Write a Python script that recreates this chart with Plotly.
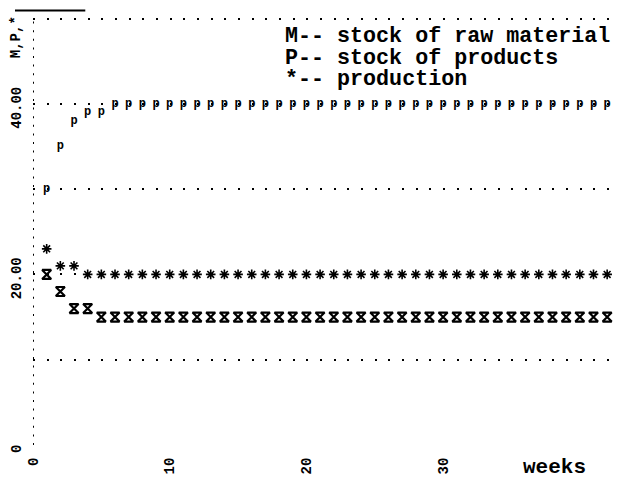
import plotly.graph_objects as go

weeks = [1, 2, 3, 4, 5, 6, 7, 8, 9, 10, 11, 12, 13, 14, 15, 16, 17, 18, 19, 20, 21,
         22, 23, 24, 25, 26, 27, 28, 29, 30, 31, 32, 33, 34, 35, 36, 37, 38, 39, 40, 41, 42]
raw_material = [20, 18, 16, 16, 15, 15, 15, 15, 15, 15, 15, 15, 15, 15, 15, 15, 15, 15, 15, 15, 15,
                15, 15, 15, 15, 15, 15, 15, 15, 15, 15, 15, 15, 15, 15, 15, 15, 15, 15, 15, 15, 15]
products = [30, 35, 38, 39, 39, 40, 40, 40, 40, 40, 40, 40, 40, 40, 40, 40, 40, 40, 40, 40, 40,
            40, 40, 40, 40, 40, 40, 40, 40, 40, 40, 40, 40, 40, 40, 40, 40, 40, 40, 40, 40, 40]
production = [23, 21, 21, 20, 20, 20, 20, 20, 20, 20, 20, 20, 20, 20, 20, 20, 20, 20, 20, 20, 20,
              20, 20, 20, 20, 20, 20, 20, 20, 20, 20, 20, 20, 20, 20, 20, 20, 20, 20, 20, 20, 20]

y_tickvals = [0, 10, 20, 30, 40, 50]
y_ticktext = ["0", "", "20.00", "", "40.00", ""]
x_tickvals = [0, 10, 20, 30]
x_ticktext = ["0", "10", "20", "30"]
legend_lines = ["M-- stock of raw material", "P-- stock of products", "*-- production"]

MONO = "Liberation Mono"

fig = go.Figure()
fig.add_trace(go.Scatter(
    x=weeks, y=raw_material, mode="markers", name="M",
    marker=dict(symbol="hourglass-open", size=9, color="black", line=dict(width=2.2, color="black")),
))
fig.add_trace(go.Scatter(
    x=weeks, y=products, mode="text", name="P", text=["p"] * len(weeks),
    textposition="middle center",
    textfont=dict(family=MONO, size=12, color="black", weight="bold"),
))
fig.add_trace(go.Scatter(
    x=weeks, y=production, mode="markers", name="*",
    marker=dict(symbol="asterisk-open", size=8, color="black", line=dict(width=1.6, color="black")),
))

# the page body has an 8px margin, so the figure is sized to fill the rest of the window
fig.update_layout(
    width=613, height=470,
    margin=dict(l=25, r=7, t=8, b=33),
    paper_bgcolor="white", plot_bgcolor="white",
    showlegend=False,
    font=dict(family=MONO, color="black"),
    xaxis=dict(
        range=[0, 42.5], showgrid=False, zeroline=False, showline=False, automargin=False,
        tickvals=x_tickvals, ticktext=x_ticktext, tickangle=-90,
        tickfont=dict(family=MONO, size=14, color="black", weight="bold"),
        ticks="outside", ticklen=6, tickcolor="rgba(0,0,0,0)",
    ),
    yaxis=dict(
        range=[0, 50.3], showgrid=True, gridcolor="black", gridwidth=2,
        griddash="2px,11.67px", zeroline=False, showline=False, automargin=False,
        tickvals=y_tickvals, ticktext=y_ticktext, tickangle=-90, ticklabelshift=6,
        tickfont=dict(family=MONO, size=14, color="black", weight="bold"),
        ticks="outside", ticklen=5, tickcolor="rgba(0,0,0,0)",
    ),
)

# dotted vertical axis at x = 0
fig.add_shape(type="line", xref="x", yref="paper", x0=0, x1=0, y0=0, y1=1,
              line=dict(color="black", width=2, dash="2px,6.6px"))
# short solid rule at the top left
fig.add_shape(type="line", xref="paper", yref="paper", x0=-0.031, x1=0.09, y0=1.013, y1=1.013,
              line=dict(color="black", width=2))

for i, line in enumerate(legend_lines):
    fig.add_annotation(
        text=line, xref="paper", yref="paper", x=0.43, y=[0.952, 0.901, 0.851][i],
        xanchor="left", yanchor="middle", showarrow=False,
        font=dict(family=MONO, size=21.7, color="black", weight="bold"),
    )

fig.add_annotation(text="weeks", xref="paper", yref="paper", x=0.84, y=-0.052,
                   xanchor="left", yanchor="middle", showarrow=False,
                   font=dict(family=MONO, size=21, color="black", weight="bold"))
fig.add_annotation(text="M,P,*", xref="paper", yref="paper", x=-0.028, y=0.95,
                   xanchor="center", yanchor="middle", showarrow=False, textangle=-90,
                   font=dict(family=MONO, size=14, color="black", weight="bold"))

fig.write_html("out.html")
